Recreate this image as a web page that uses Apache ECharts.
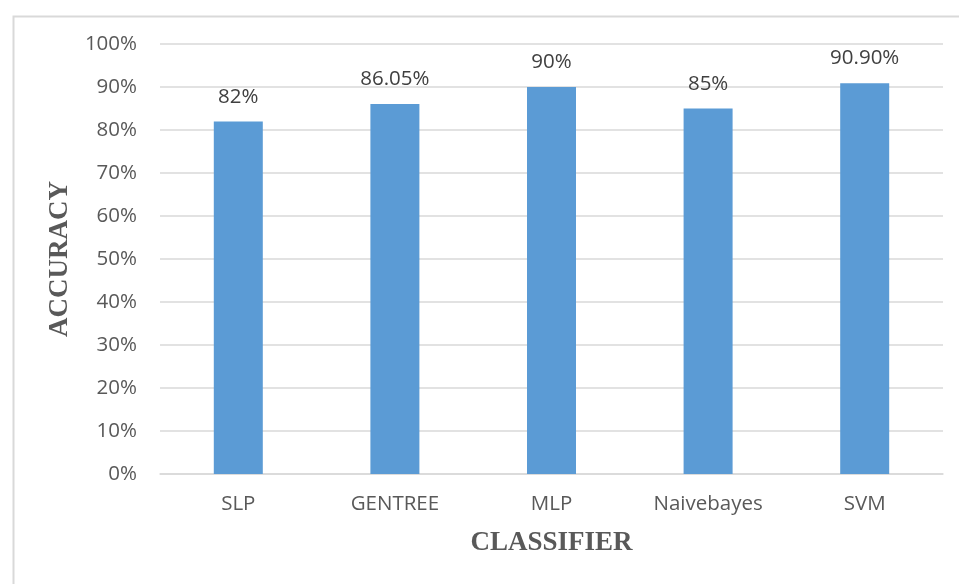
<!DOCTYPE html>
<html><head><meta charset="utf-8">
<script src="https://cdn.jsdelivr.net/npm/echarts@6/dist/echarts.min.js"></script>
<style>html,body{margin:0;padding:0;background:#fff}#c{width:959px;height:584px}</style>
</head><body><div id="c"></div>
<script>
const categories = ["SLP", "GENTREE", "MLP", "Naivebayes", "SVM"];
const accuracy = [82, 86.05, 90, 85, 90.9];
const valueLabels = ["82%", "86.05%", "90%", "85%", "90.90%"];
const yTicks = [0, 10, 20, 30, 40, 50, 60, 70, 80, 90, 100];

const chart = echarts.init(document.getElementById('c'), null, {renderer: 'canvas'});
chart.setOption({
  animation: false,
  backgroundColor: '#fff',
  graphic: [{
    type: 'rect', left: 11, top: 14, shape: {width: 970, height: 600},
    style: {fill: 'none', stroke: '#d9d9d9', lineWidth: 2}, z: -1
  }],
  grid: {left: 160, right: 16, top: 44, bottom: 110},
  xAxis: {
    type: 'category', data: categories,
    name: 'CLASSIFIER', nameLocation: 'middle', nameGap: 69,
    nameTextStyle: {fontFamily: 'Liberation Serif', fontWeight: 'bold', fontSize: 27, color: '#595959', verticalAlign: 'middle'},
    axisLine: {lineStyle: {color: '#d9d9d9', width: 1.5}},
    axisTick: {show: false},
    axisLabel: {fontFamily: 'Open Sans', fontSize: 20.5, color: '#595959', margin: 20}
  },
  yAxis: {
    type: 'value', min: 0, max: 100, interval: 10,
    name: 'ACCURACY', nameLocation: 'middle', nameGap: 99, nameRotate: 90,
    nameTextStyle: {fontFamily: 'Liberation Serif', fontWeight: 'bold', fontSize: 27, color: '#595959', verticalAlign: 'middle'},
    axisLine: {show: false}, axisTick: {show: false},
    splitLine: {lineStyle: {color: '#d9d9d9', width: 1.5}},
    axisLabel: {fontFamily: 'Open Sans', fontSize: 20.5, color: '#595959', margin: 23,
      formatter: v => yTicks.includes(v) ? v + '%' : ''}
  },
  series: [{
    type: 'bar', data: accuracy, barWidth: 49,
    itemStyle: {color: '#5b9bd5'},
    label: {show: true, position: 'top', distance: 14, fontFamily: 'Open Sans', fontSize: 20.5, color: '#404040',
      formatter: p => valueLabels[p.dataIndex]}
  }]
});
</script></body></html>
